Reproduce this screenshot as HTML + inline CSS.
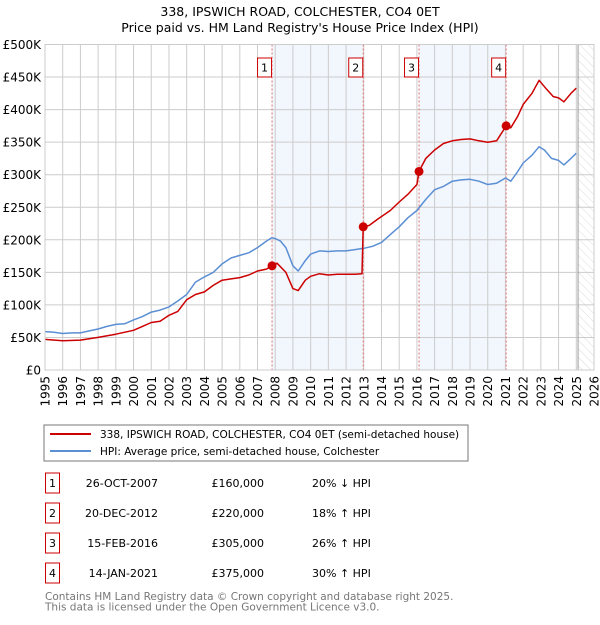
<!DOCTYPE html>
<html><head><meta charset="utf-8"><style>
body{margin:0;background:#fff;}
svg text{font-family:"DejaVu Sans","Liberation Sans",sans-serif;}
</style></head><body>
<svg id="c" width="600" height="620" xmlns="http://www.w3.org/2000/svg">
<text x="300" y="16" text-anchor="middle" font-size="12.5" fill="#000">338, IPSWICH ROAD, COLCHESTER, CO4 0ET</text>
<text x="300" y="32" text-anchor="middle" font-size="12.5" fill="#000">Price paid vs. HM Land Registry's House Price Index (HPI)</text>
<defs><pattern id="hatch" width="6" height="6" patternUnits="userSpaceOnUse" patternTransform="rotate(-45)"><line x1="0" y1="0" x2="0" y2="6" stroke="#ccc" stroke-width="0.7"/></pattern></defs>
<g id="plot"></g>
<rect x="44" y="425" width="424" height="36" fill="#fff" stroke="#777"/>
<line x1="50" y1="434" x2="91" y2="434" stroke="#cc0000" stroke-width="2"/>
<text x="100" y="438" font-size="10.5">338, IPSWICH ROAD, COLCHESTER, CO4 0ET (semi-detached house)</text>
<line x1="50" y1="451" x2="91" y2="451" stroke="#5b8fd4" stroke-width="2"/>
<text x="100" y="455" font-size="10.5">HPI: Average price, semi-detached house, Colchester</text>
<g id="table" font-size="11"></g>
<text x="45" y="600" font-size="10.5" fill="#777">Contains HM Land Registry data © Crown copyright and database right 2025.</text>
<text x="45" y="610.5" font-size="10.5" fill="#777">This data is licensed under the Open Government Licence v3.0.</text>
</svg>
<script>
const hpiYears=[1995,1995.5,1996,1996.5,1997,1997.5,1998,1998.5,1999,1999.5,2000,2000.5,2001,2001.5,2002,2002.5,2003,2003.5,2004,2004.5,2005,2005.5,2006,2006.5,2007,2007.5,2007.8,2008,2008.3,2008.6,2009,2009.3,2009.7,2010,2010.5,2011,2011.5,2012,2012.5,2013,2013.5,2014,2014.5,2015,2015.5,2016,2016.5,2017,2017.5,2018,2018.5,2019,2019.5,2020,2020.5,2021,2021.3,2021.7,2022,2022.5,2022.9,2023.2,2023.6,2024,2024.3,2024.7,2025];
const hpiValues=[59,58,56,57,57,60,63,67,70,71,77,82,89,92,97,106,116,135,143,150,163,172,176,180,188,198,203,202,198,188,160,152,168,178,183,182,183,183,185,187,190,196,208,220,234,245,262,277,282,290,292,293,290,285,287,295,290,305,318,330,343,338,325,322,315,325,333];
const priceYears=[1995,1996,1997,1998,1999,2000,2000.5,2001,2001.5,2002,2002.5,2003,2003.5,2004,2004.5,2005,2005.5,2006,2006.5,2007,2007.5,2007.82,2008.1,2008.6,2009,2009.3,2009.7,2010,2010.5,2011,2011.5,2012,2012.5,2012.9,2012.97,2013.3,2013.8,2014.5,2015,2015.5,2016,2016.12,2016.5,2017,2017.5,2018,2018.5,2019,2019.5,2020,2020.5,2021.04,2021.3,2021.7,2022,2022.5,2022.9,2023.3,2023.7,2024,2024.3,2024.7,2025];
const priceValues=[47,45,46,50,55,61,67,73,75,84,90,108,116,120,130,138,140,142,146,152,155,160,164,150,125,122,138,144,148,146,147,147,147,148,220,222,232,245,258,270,285,305,325,338,348,352,354,355,352,350,352,375,372,390,408,425,445,432,420,418,412,425,433];
const saleLabels=["1","2","3","4"];
const saleYears=[2007.82,2012.97,2016.12,2021.04];
const saleValues=[160,220,305,375];
const saleDates=["26-OCT-2007","20-DEC-2012","15-FEB-2016","14-JAN-2021"];
const salePrices=["£160,000","£220,000","£305,000","£375,000"];
const saleHpi=["20% ↓ HPI","18% ↑ HPI","26% ↑ HPI","30% ↑ HPI"];
const yTicks=[0,50,100,150,200,250,300,350,400,450,500];
const yTickLabels=["£0","£50K","£100K","£150K","£200K","£250K","£300K","£350K","£400K","£450K","£500K"];
const xTicks=[1995,1996,1997,1998,1999,2000,2001,2002,2003,2004,2005,2006,2007,2008,2009,2010,2011,2012,2013,2014,2015,2016,2017,2018,2019,2020,2021,2022,2023,2024,2025,2026];
const X0=45,X1=594,Y0=370,Y1=44.5;
const xs=y=>X0+(y-1995)/(2026-1995)*(X1-X0);
const ys=v=>Y0-v/500*(Y0-Y1);
const NS="http://www.w3.org/2000/svg";
const plot=document.getElementById('plot');
function mk(tag,attrs,parent){const e=document.createElementNS(NS,tag);for(const k in attrs)e.setAttribute(k,attrs[k]);(parent||plot).appendChild(e);return e;}
[[0,1],[2,3]].forEach(p=>{
 const r=mk('rect',{x:xs(saleYears[p[0]]),y:Y1,width:xs(saleYears[p[1]])-xs(saleYears[p[0]]),height:Y0-Y1,fill:'#eef3fc',opacity:0.75});
 
 
});
const hr=mk('rect',{x:xs(2025.1),y:Y1,width:X1-xs(2025.1),height:Y0-Y1,fill:'url(#hatch)'});


xTicks.forEach(t=>{
 const l=mk('line',{x1:xs(t),x2:xs(t),y1:Y1,y2:Y0,stroke:'#ccc','stroke-width':1});
 
 
 const tx=mk('text',{x:0,y:0,'font-size':12,'text-anchor':'end',transform:`translate(${xs(t)+4.5},${Y0+6}) rotate(-90)`});
 tx.textContent=t;
 
 
});
yTicks.forEach((t,i)=>{
 const l=mk('line',{x1:X0,x2:X1,y1:ys(t),y2:ys(t),stroke:'#ccc','stroke-width':1});
 
 
 const tx=mk('text',{x:X0-4,y:ys(t)+4.5,'font-size':12,'text-anchor':'end'});
 tx.textContent=yTickLabels[i];
 
 
});
const vl=mk('line',{x1:xs(2025.1),x2:xs(2025.1),y1:Y1,y2:Y0,stroke:'#999','stroke-width':1});


saleYears.forEach((y,i)=>{
 const l=mk('line',{x1:xs(y),x2:xs(y),y1:Y1,y2:Y0,stroke:'#e87070','stroke-width':1,'stroke-dasharray':'2,2'});
 
 
 const b=mk('rect',{x:xs(y)-14.5,y:58,width:14,height:19,fill:'#fff',stroke:'#cc0000'});
 
 
 const t=mk('text',{x:xs(y)-7.5,y:71.5,'font-size':11,'text-anchor':'middle'});
 t.textContent=saleLabels[i];
 
 
});
function line(years,vals,color,name){
 const d=years.map((y,i)=>(i?'L':'M')+xs(y).toFixed(1)+','+ys(vals[i]).toFixed(1)).join('');
 const p=mk('path',{d:d,fill:'none',stroke:color,'stroke-width':1.5,'stroke-linejoin':'round'});
 
 
}
line(hpiYears,hpiValues,'#5b8fd4','hpi-line');
line(priceYears,priceValues,'#cc0000','price-line');
saleYears.forEach((y,i)=>{
 const c=mk('circle',{cx:xs(y),cy:ys(saleValues[i]),r:4.5,fill:'#cc0000'});
 
 
});
const ax=mk('rect',{x:X0,y:Y1,width:X1-X0,height:Y0-Y1,fill:'none',stroke:'#ccc'});


const tb=document.getElementById('table');
saleLabels.forEach((s,i)=>{
 const cy=483+i*30;
 const b=mk('rect',{x:45.5,y:cy-10,width:14,height:20,fill:'none',stroke:'#cc0000'},tb);
 
 
 const t1=mk('text',{x:52.5,y:cy+4,'text-anchor':'middle'},tb);t1.textContent=s;
 
 
 const t2=mk('text',{x:158,y:cy+4,'text-anchor':'end'},tb);t2.textContent=saleDates[i];
 
 
 const t3=mk('text',{x:264,y:cy+4,'text-anchor':'end'},tb);t3.textContent=salePrices[i];
 
 
 const t4=mk('text',{x:312,y:cy+4},tb);t4.textContent=saleHpi[i];
 
 
});
</script>
</body></html>
